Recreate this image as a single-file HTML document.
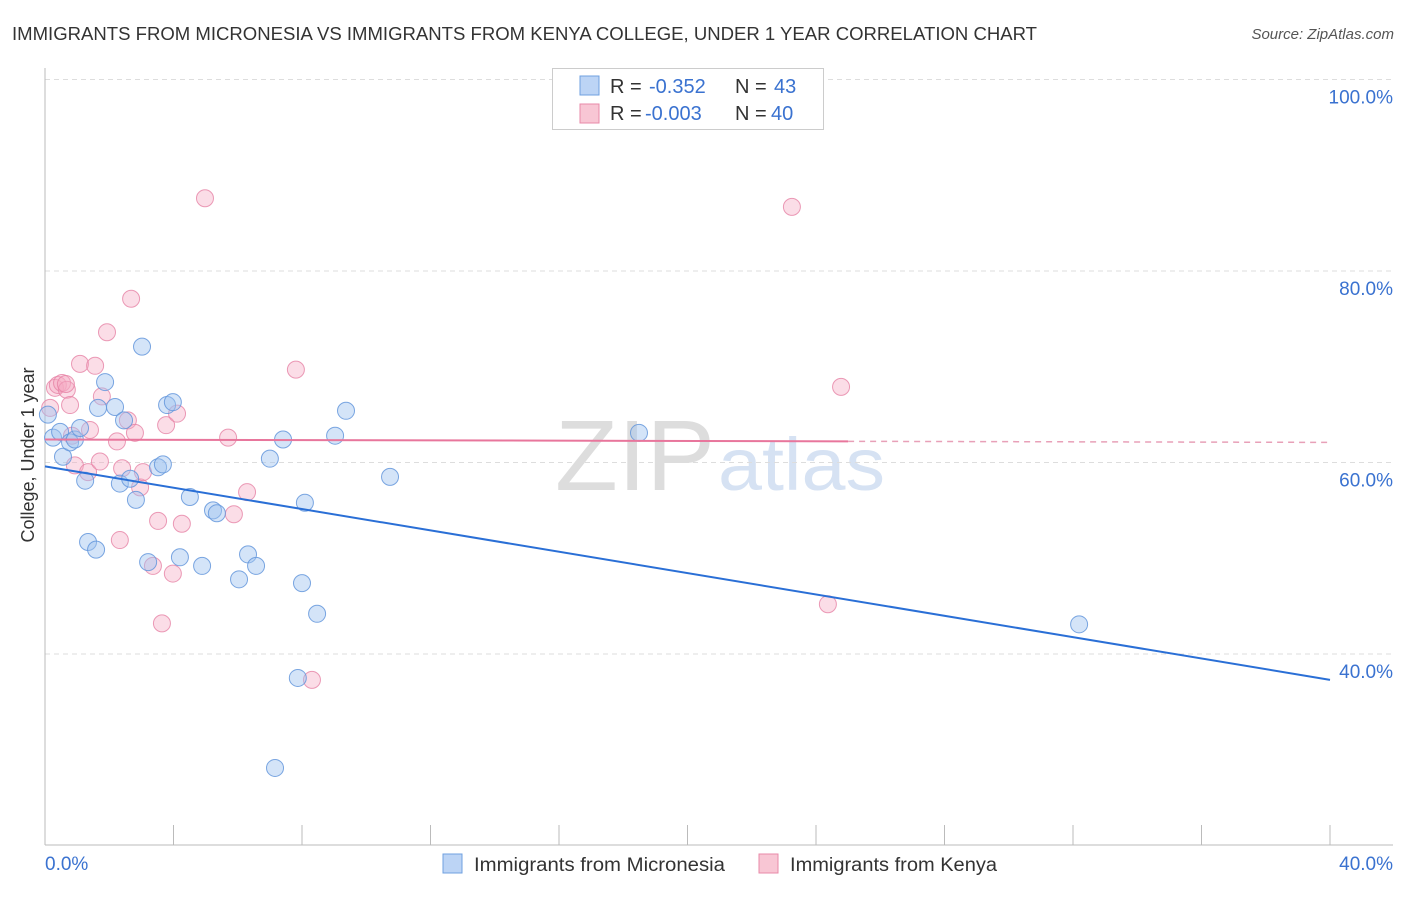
<!DOCTYPE html>
<html><head><meta charset="utf-8"><style>
body{margin:0;background:#fff;font-family:"Liberation Sans",sans-serif;}
svg text{font-family:"Liberation Sans",sans-serif;}
</style></head><body>
<svg id="chart" width="1406" height="892" xmlns="http://www.w3.org/2000/svg">
<text x="12" y="40" font-size="18" fill="#333" textLength="1025" lengthAdjust="spacingAndGlyphs">IMMIGRANTS FROM MICRONESIA VS IMMIGRANTS FROM KENYA COLLEGE, UNDER 1 YEAR CORRELATION CHART</text>
<text x="1394" y="39" font-size="15" fill="#555" font-style="italic" text-anchor="end">Source: ZipAtlas.com</text>
<text x="555" y="490" font-size="100" fill="#ddd" font-family="Liberation Serif" textLength="160" lengthAdjust="spacingAndGlyphs">ZIP</text>
<text x="718" y="490" font-size="74" fill="#d6e2f3" textLength="167" lengthAdjust="spacingAndGlyphs">atlas</text>
<g id="grid"></g>
<g id="axes"></g>
<g id="marks"></g>
<text transform="translate(34,455) rotate(-90)" font-size="18" fill="#333" text-anchor="middle">College, Under 1 year</text>
<g>
<rect x="552.5" y="68.5" width="271" height="61" fill="#fff" stroke="#ccc"/>
<rect x="580" y="76" width="19" height="19" fill="#bcd4f5" stroke="#6fa0e0"/>
<text x="610" y="93" font-size="20" fill="#333">R =</text>
<text x="649" y="93" font-size="20" fill="#3a72d0">-0.352</text>
<text x="735" y="93" font-size="20" fill="#333">N =</text>
<text x="774" y="93" font-size="20" fill="#3a72d0">43</text>
<rect x="580" y="104" width="19" height="19" fill="#f8c6d4" stroke="#e88aa8"/>
<text x="610" y="120" font-size="20" fill="#333">R =</text>
<text x="645" y="120" font-size="20" fill="#3a72d0">-0.003</text>
<text x="735" y="120" font-size="20" fill="#333">N =</text>
<text x="771" y="120" font-size="20" fill="#3a72d0">40</text>
</g>
<g>
<rect x="443" y="854" width="19" height="19" fill="#bcd4f5" stroke="#6fa0e0"/>
<text x="474" y="871" font-size="19" fill="#333" textLength="251" lengthAdjust="spacingAndGlyphs">Immigrants from Micronesia</text>
<rect x="759" y="854" width="19" height="19" fill="#f8c6d4" stroke="#e88aa8"/>
<text x="790" y="871" font-size="19" fill="#333" textLength="207" lengthAdjust="spacingAndGlyphs">Immigrants from Kenya</text>
</g>
</svg>
<script>
const yTicks=[40,60,80,100];
const xTickLabels=["0.0%","40.0%"];
const blueX=[0.09,0.25,0.47,0.56,0.78,0.93,1.09,1.25,1.34,1.59,1.65,1.87,2.18,2.33,2.46,2.65,2.83,3.02,3.21,3.52,3.67,3.80,3.98,4.20,4.51,4.89,5.23,5.35,6.04,6.32,6.57,7.00,7.41,7.16,7.87,8.00,8.09,8.47,9.03,9.37,10.74,18.49,32.19];
const blueY=[65.0,62.6,63.2,60.6,62.1,62.4,63.6,58.1,51.7,50.9,65.7,68.4,65.8,57.8,64.4,58.3,56.1,72.1,49.6,59.5,59.8,66.0,66.3,50.1,56.4,49.2,55.0,54.7,47.8,50.4,49.2,60.4,62.4,28.1,37.5,47.4,55.8,44.2,62.8,65.4,58.5,63.1,43.1];
const pinkX=[0.16,0.31,0.40,0.53,0.68,0.78,0.84,0.93,1.09,1.34,1.40,1.56,1.71,1.77,1.93,2.24,2.40,2.58,2.68,2.80,2.96,3.05,3.36,3.52,3.64,3.77,3.98,4.11,4.26,4.98,5.70,5.88,6.29,7.81,8.31,23.25,24.37,24.78,2.33,0.65];
const pinkY=[65.7,67.8,68.1,68.3,67.6,66.0,62.8,59.7,70.3,59.0,63.4,70.1,60.1,66.9,73.6,62.2,59.4,64.4,77.1,63.1,57.4,59.0,49.2,53.9,43.2,63.9,48.4,65.1,53.6,87.6,62.6,54.6,56.9,69.7,37.3,86.7,45.2,67.9,51.9,68.2];
const blueTrend=[59.6,37.3];
const pinkTrend=[62.4,62.1];
const pinkSolidEnd=25;
const NS="http://www.w3.org/2000/svg";
const X0=45,X1=1330,Y100=79.5,PX20=191.5;
function sx(v){return X0+v/40*(X1-X0);}
function sy(v){return Y100+(100-v)/20*PX20;}
function mk(tag,attrs,parent){const e=document.createElementNS(NS,tag);for(const k in attrs)e.setAttribute(k,attrs[k]);parent.appendChild(e);return e;}
const grid=document.getElementById('grid'),axes=document.getElementById('axes'),marks=document.getElementById('marks');
yTicks.forEach(t=>{
  const l=mk('line',{x1:45,x2:1393,y1:sy(t),y2:sy(t),stroke:'#ddd','stroke-dasharray':'5,4'},grid);
  
  
  const tx=mk('text',{x:1393,y:sy(t)+24,'font-size':19,fill:'#3a72d0','text-anchor':'end'},axes);
  tx.textContent=t.toFixed(1)+'%';
  
  
});
mk('line',{x1:45,x2:45,y1:68,y2:845,stroke:'#bbb'},axes);
mk('line',{x1:45,x2:1393,y1:845,y2:845,stroke:'#bbb'},axes);
for(let i=0;i<=10;i++){
  const t=mk('line',{x1:sx(i*4),x2:sx(i*4),y1:825,y2:845,stroke:'#bbb'},axes);
  
  
}
const xl0=mk('text',{x:45,y:870,'font-size':19,fill:'#3a72d0'},axes);xl0.textContent=xTickLabels[0];


const xl1=mk('text',{x:1393,y:870,'font-size':19,fill:'#3a72d0','text-anchor':'end'},axes);xl1.textContent=xTickLabels[1];


pinkX.forEach((v,i)=>{
  const c=mk('circle',{cx:sx(v),cy:sy(pinkY[i]),r:8.5,fill:'rgba(244,170,195,0.4)',stroke:'rgba(230,130,165,0.8)','stroke-width':1},marks);
  
  
});
blueX.forEach((v,i)=>{
  const c=mk('circle',{cx:sx(v),cy:sy(blueY[i]),r:8.5,fill:'rgba(160,195,240,0.45)',stroke:'rgba(100,150,220,0.85)','stroke-width':1},marks);
  
  
});
const bt=mk('line',{x1:sx(0),y1:sy(blueTrend[0]),x2:sx(40),y2:sy(blueTrend[1]),stroke:'#2a6fd6','stroke-width':2},marks);


const pMid=pinkTrend[0]+(pinkTrend[1]-pinkTrend[0])*pinkSolidEnd/40;
const pt=mk('line',{x1:sx(0),y1:sy(pinkTrend[0]),x2:sx(pinkSolidEnd),y2:sy(pMid),stroke:'#e8769c','stroke-width':2},marks);


const pd=mk('line',{x1:sx(pinkSolidEnd),y1:sy(pMid),x2:sx(40),y2:sy(pinkTrend[1]),stroke:'#e8a0b8','stroke-width':1.5,'stroke-dasharray':'6,5'},marks);


</script>
</body></html>
